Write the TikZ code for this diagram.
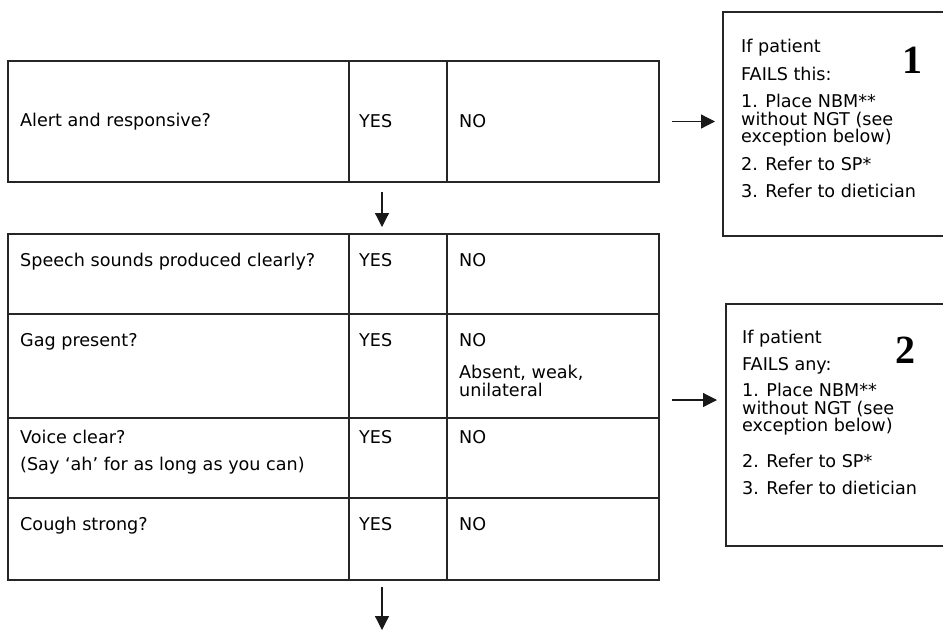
\documentclass[tikz,border=0pt]{standalone}
\usepackage{fontspec}
\setmainfont{DejaVu Sans}
\newfontfamily\numfont{Liberation Serif}
\usetikzlibrary{arrows.meta,positioning}

\begin{document}
\begin{tikzpicture}[x=1pt, y=-1pt,
    cell/.style={draw=black!85, line width=1.2pt, outer sep=0pt, inner sep=0pt},
    qcol/.style={cell, minimum width=341pt},
    yescol/.style={cell, minimum width=98pt},
    nocol/.style={cell, minimum width=212pt},
    failbox/.style={draw=black!85, line width=1.2pt, outer sep=0pt, inner sep=0pt, anchor=north west, minimum width=230pt},
    txt/.style={inner sep=0pt, align=left, font=\fontsize{17.6}{17.5}\selectfont},
    bignum/.style={inner sep=0pt, font=\numfont\bfseries\fontsize{40}{40}\selectfont},
    arrow/.style={-{Triangle[width=14pt, length=14pt]}, line width=1.2pt, draw=black!90}
]
\clip (0,0) rectangle (943,630);

% first check
\node[qcol, minimum height=121pt, anchor=north west] (alert) at (8,61) {};
\node[yescol, minimum height=121pt, right=0pt of alert] (alertyes) {};
\node[nocol, minimum height=121pt, right=0pt of alertyes] (alertno) {};
\node[txt, right=12pt of alert.west] (alerttxt) {Alert and responsive?};
\node[txt, right=10pt of alertyes.west] (alertyestxt) {YES};
\node[txt, right=12pt of alertno.west] (alertnotxt) {NO};

% second checks
\node[qcol, minimum height=80pt, below=52pt of alert] (speech) {};
\node[yescol, minimum height=80pt, right=0pt of speech] (speechyes) {};
\node[nocol, minimum height=80pt, right=0pt of speechyes] (speechno) {};
\node[qcol, minimum height=104pt, below=0pt of speech] (gag) {};
\node[yescol, minimum height=104pt, right=0pt of gag] (gagyes) {};
\node[nocol, minimum height=104pt, right=0pt of gagyes] (gagno) {};
\node[qcol, minimum height=80pt, below=0pt of gag] (voice) {};
\node[yescol, minimum height=80pt, right=0pt of voice] (voiceyes) {};
\node[nocol, minimum height=80pt, right=0pt of voiceyes] (voiceno) {};
\node[qcol, minimum height=82pt, below=0pt of voice] (cough) {};
\node[yescol, minimum height=82pt, right=0pt of cough] (coughyes) {};
\node[nocol, minimum height=82pt, right=0pt of coughyes] (coughno) {};

\node[txt, below right=19pt and 12pt of speech.north west] (speechtxt) {Speech sounds produced clearly?};
\node[txt, below right=19pt and 10pt of speechyes.north west] (speechyestxt) {YES};
\node[txt, below right=19pt and 12pt of speechno.north west] (speechnotxt) {NO};
\node[txt, below right=19pt and 12pt of gag.north west] (gagtxt) {Gag present?};
\node[txt, below right=19pt and 10pt of gagyes.north west] (gagyestxt) {YES};
\node[txt, below right=19pt and 12pt of gagno.north west] (gagnotxt) {NO\\[15pt]Absent, weak,\\unilateral};
\node[txt, below right=12pt and 12pt of voice.north west] (voicetxt) {Voice clear?\\[9pt](Say ‘ah’ for as long as you can)};
\node[txt, below right=12pt and 10pt of voiceyes.north west] (voiceyestxt) {YES};
\node[txt, below right=12pt and 12pt of voiceno.north west] (voicenotxt) {NO};
\node[txt, below right=19pt and 12pt of cough.north west] (coughtxt) {Cough strong?};
\node[txt, below right=19pt and 10pt of coughyes.north west] (coughyestxt) {YES};
\node[txt, below right=19pt and 12pt of coughno.north west] (coughnotxt) {NO};

% actions on failure
\node[failbox, minimum height=224pt] (fail1) at (723,12) {};
\node[txt, below right=27pt and 18pt of fail1.north west] (fail1txt) {If patient\\[10pt]FAILS this:\\[10pt]1. Place NBM**\\without NGT (see\\exception below)\\[10pt]2. Refer to SP*\\[10pt]3. Refer to dietician};
\node[bignum] (num1) at ([shift={(189,48)}]fail1.north west) {1};

\node[failbox, minimum height=242pt] (fail2) at (726,304) {};
\node[txt, below right=26pt and 16pt of fail2.north west] (fail2txt) {If patient\\[9pt]FAILS any:\\[9pt]1. Place NBM**\\without NGT (see\\exception below)\\[18pt]2. Refer to SP*\\[10pt]3. Refer to dietician};
\node[bignum] (num2) at ([shift={(179,46)}]fail2.north west) {2};

% arrows
\coordinate (in2) at (717,400);
\coordinate (exit) at (382,630);
\draw[arrow, shorten <=10pt, shorten >=7pt] ([xshift=-16pt]alertyes.south) -- ([xshift=-16pt]speechyes.north);
\draw[arrow, shorten <=7pt] ([xshift=-16pt]coughyes.south) -- (exit);
\draw[arrow, shorten <=13pt, shorten >=8pt] (alertno.east) -- (alertno.east -| fail1.west);
\draw[arrow, shorten <=13pt] (in2 -| gagno.east) -- (in2);

\end{tikzpicture}
\end{document}
